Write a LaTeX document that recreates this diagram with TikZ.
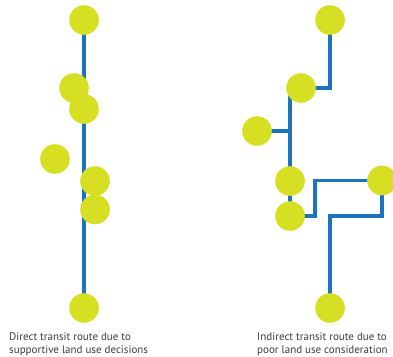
\documentclass[tikz,border=0pt]{standalone}
\usepackage{fontspec}
\setmainfont{PT Sans}
\usetikzlibrary{backgrounds}
\definecolor{stopyellow}{HTML}{D7DF23}
\definecolor{routeblue}{HTML}{1C75BC}
\definecolor{captiongray}{HTML}{3C3C3C}
\tikzset{
  stopdot/.style={circle, fill=stopyellow, draw=none, minimum size=29.6pt, inner sep=0pt},
  route/.style={draw=routeblue, line width=3.8pt, line join=miter},
  caption/.style={anchor=base west, inner sep=0pt, text=captiongray, font=\fontsize{11}{13}\selectfont}
}
\begin{document}
\begin{tikzpicture}[x=1pt, y=-1pt]
\useasboundingbox (0,0) rectangle (393,356);

% direct route stops
\node[stopdot] (L1) at (84,20) {};
\node[stopdot] (L2) at (74,88) {};
\node[stopdot] (L3) at (84,109) {};
\node[stopdot] (L4) at (55,159) {};
\node[stopdot] (L5) at (95,181) {};
\node[stopdot] (L6) at (95,209.5) {};
\node[stopdot] (L7) at (84,308) {};

% indirect route stops
\node[stopdot] (R1) at (330,20) {};
\node[stopdot] (R2) at (301,88) {};
\node[stopdot] (R3) at (257,131) {};
\node[stopdot] (R4) at (290,181) {};
\node[stopdot] (R5) at (290,216) {};
\node[stopdot] (R6) at (382,180.5) {};
\node[stopdot] (R7) at (330,308) {};

\coordinate (jog) at (315,216);
\coordinate (back) at (330,216);

\begin{scope}[on background layer]
  \draw[route] (L1.center) -- (L7.center);

  \draw[route] (R1.center) |- (R2.center);
  \draw[route] (R2.center -| R4.center) -- (R5.center);
  \draw[route] (R3.center) -- (R3.center -| R4.center);
  \draw[route] (R5.center) -- (jog) |- (R6.center);
  \draw[route] (R6.center) |- (back) -- (R7.center);
\end{scope}

\node[caption] (capL1) at (9,340) {Direct transit route due to};
\node[caption] (capL2) at (9,353) {supportive land use decisions};
\node[caption] (capR1) at (257,340) {Indirect transit route due to};
\node[caption] (capR2) at (257,353) {poor land use consideration};
\end{tikzpicture}
\end{document}
